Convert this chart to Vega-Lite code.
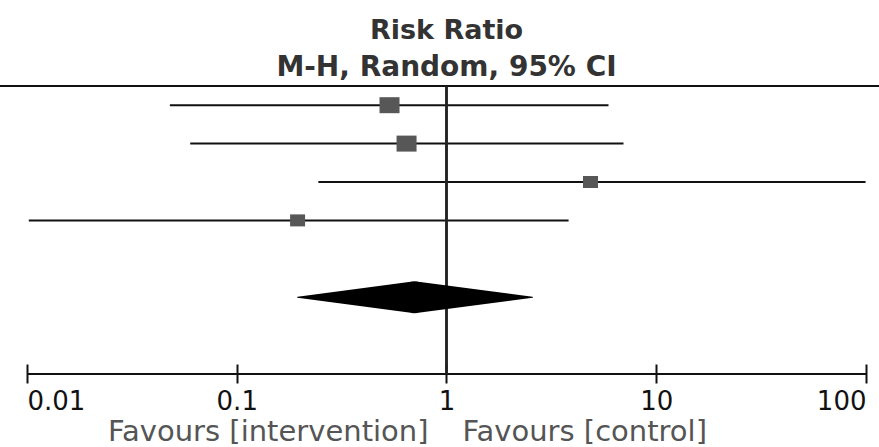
{
  "$schema": "https://vega.github.io/schema/vega-lite/v6.json",
  "autosize": "none",
  "width": 839,
  "height": 288,
  "padding": {"left": 27, "top": 86, "right": 13, "bottom": 73},
  "background": "white",
  "title": {
    "text": "Risk Ratio",
    "subtitle": "M-H, Random, 95% CI",
    "anchor": "middle",
    "font": "DejaVu Sans",
    "fontSize": 27,
    "fontWeight": "bold",
    "color": "#333333",
    "subtitleFont": "DejaVu Sans",
    "subtitleFontSize": 28,
    "subtitleFontWeight": "bold",
    "subtitleColor": "#333333",
    "subtitlePadding": 9,
    "offset": 2
  },
  "datasets": {
    "studies": [
      {"study": "Study 1", "row": 0, "est": 0.535, "lo": 0.048, "hi": 5.92, "weight": 32},
      {"study": "Study 2", "row": 1, "est": 0.645, "lo": 0.060, "hi": 6.98, "weight": 32},
      {"study": "Study 3", "row": 2, "est": 4.86, "lo": 0.245, "hi": 99.5, "weight": 18},
      {"study": "Study 4", "row": 3, "est": 0.195, "lo": 0.0102, "hi": 3.82, "weight": 18}
    ],
    "pooled": [
      {"study": "Total", "row": 5, "est": 0.704, "lo": 0.195, "hi": 2.57}
    ]
  },
  "data": {"name": "studies"},
  "layer": [
    {
      "mark": {"type": "rule", "color": "#111111", "strokeWidth": 2},
      "encoding": {
        "x": {
          "field": "lo", "type": "quantitative",
          "scale": {"type": "log", "domain": [0.01, 100], "nice": false},
          "axis": {
            "values": [0.01, 0.1, 1, 10, 100],
            "format": "~g",
            "title": null,
            "grid": false,
            "domain": false,
            "offset": -10,
            "ticks": true,
            "tickColor": "#111111",
            "tickWidth": 2,
            "tickSize": 19,
            "labelPadding": 5,
            "labelFlush": true,
            "labelOverlap": false,
            "labelFont": "DejaVu Sans",
            "labelFontSize": 26,
            "labelColor": "#111111"
          }
        },
        "x2": {"field": "hi"},
        "y": {
          "field": "row", "type": "quantitative",
          "scale": {"domain": [-0.5, 7], "reverse": true, "nice": false, "zero": false},
          "axis": null
        }
      }
    },
    {
      "mark": {"type": "rule", "color": "#111111", "strokeWidth": 2},
      "encoding": {
        "x": {"datum": 0.0074, "type": "quantitative"},
        "x2": {"datum": 116},
        "y": {"datum": -0.5, "type": "quantitative", "axis": null}
      }
    },
    {
      "mark": {"type": "rule", "color": "#111111", "strokeWidth": 2},
      "encoding": {
        "x": {"datum": 0.01, "type": "quantitative"},
        "x2": {"datum": 100},
        "y": {"datum": 7, "type": "quantitative", "axis": null}
      }
    },
    {
      "mark": {"type": "rule", "color": "#222222", "strokeWidth": 2},
      "encoding": {
        "x": {"datum": 1, "type": "quantitative"},
        "y": {"datum": -0.5, "type": "quantitative", "axis": null},
        "y2": {"datum": 7}
      }
    },
    {
      "mark": {"type": "point", "shape": "M-1.25,-1H1.25V1H-1.25Z", "filled": true, "color": "#575757", "opacity": 1, "strokeWidth": 0},
      "encoding": {
        "x": {"field": "est", "type": "quantitative"},
        "y": {"field": "row", "type": "quantitative", "axis": null},
        "size": {"field": "weight", "type": "quantitative", "scale": {"domain": [0, 32], "range": [0, 256]}, "legend": null}
      }
    },
    {
      "data": {"name": "pooled"},
      "transform": [{"fold": ["lo", "est", "hi"], "as": ["key", "value"]}],
      "mark": {"type": "trail", "color": "#000000"},
      "encoding": {
        "x": {"field": "value", "type": "quantitative"},
        "y": {"field": "row", "type": "quantitative", "axis": null},
        "size": {"field": "key", "type": "nominal", "scale": {"type": "ordinal", "domain": ["lo", "est", "hi"], "range": [0, 32, 0]}, "legend": null}
      }
    },
    {
      "data": {"values": [{"label": "Favours [intervention]"}]},
      "mark": {"type": "text", "align": "right", "baseline": "alphabetic", "dx": -18, "dy": 67, "font": "DejaVu Sans", "fontSize": 29, "color": "#555555"},
      "encoding": {
        "x": {"datum": 1, "type": "quantitative"},
        "y": {"datum": 7, "type": "quantitative", "axis": null},
        "text": {"field": "label"}
      }
    },
    {
      "data": {"values": [{"label": "Favours [control]"}]},
      "mark": {"type": "text", "align": "left", "baseline": "alphabetic", "dx": 16, "dy": 67, "font": "DejaVu Sans", "fontSize": 29, "color": "#555555"},
      "encoding": {
        "x": {"datum": 1, "type": "quantitative"},
        "y": {"datum": 7, "type": "quantitative", "axis": null},
        "text": {"field": "label"}
      }
    }
  ],
  "config": {"view": {"stroke": null}}
}
